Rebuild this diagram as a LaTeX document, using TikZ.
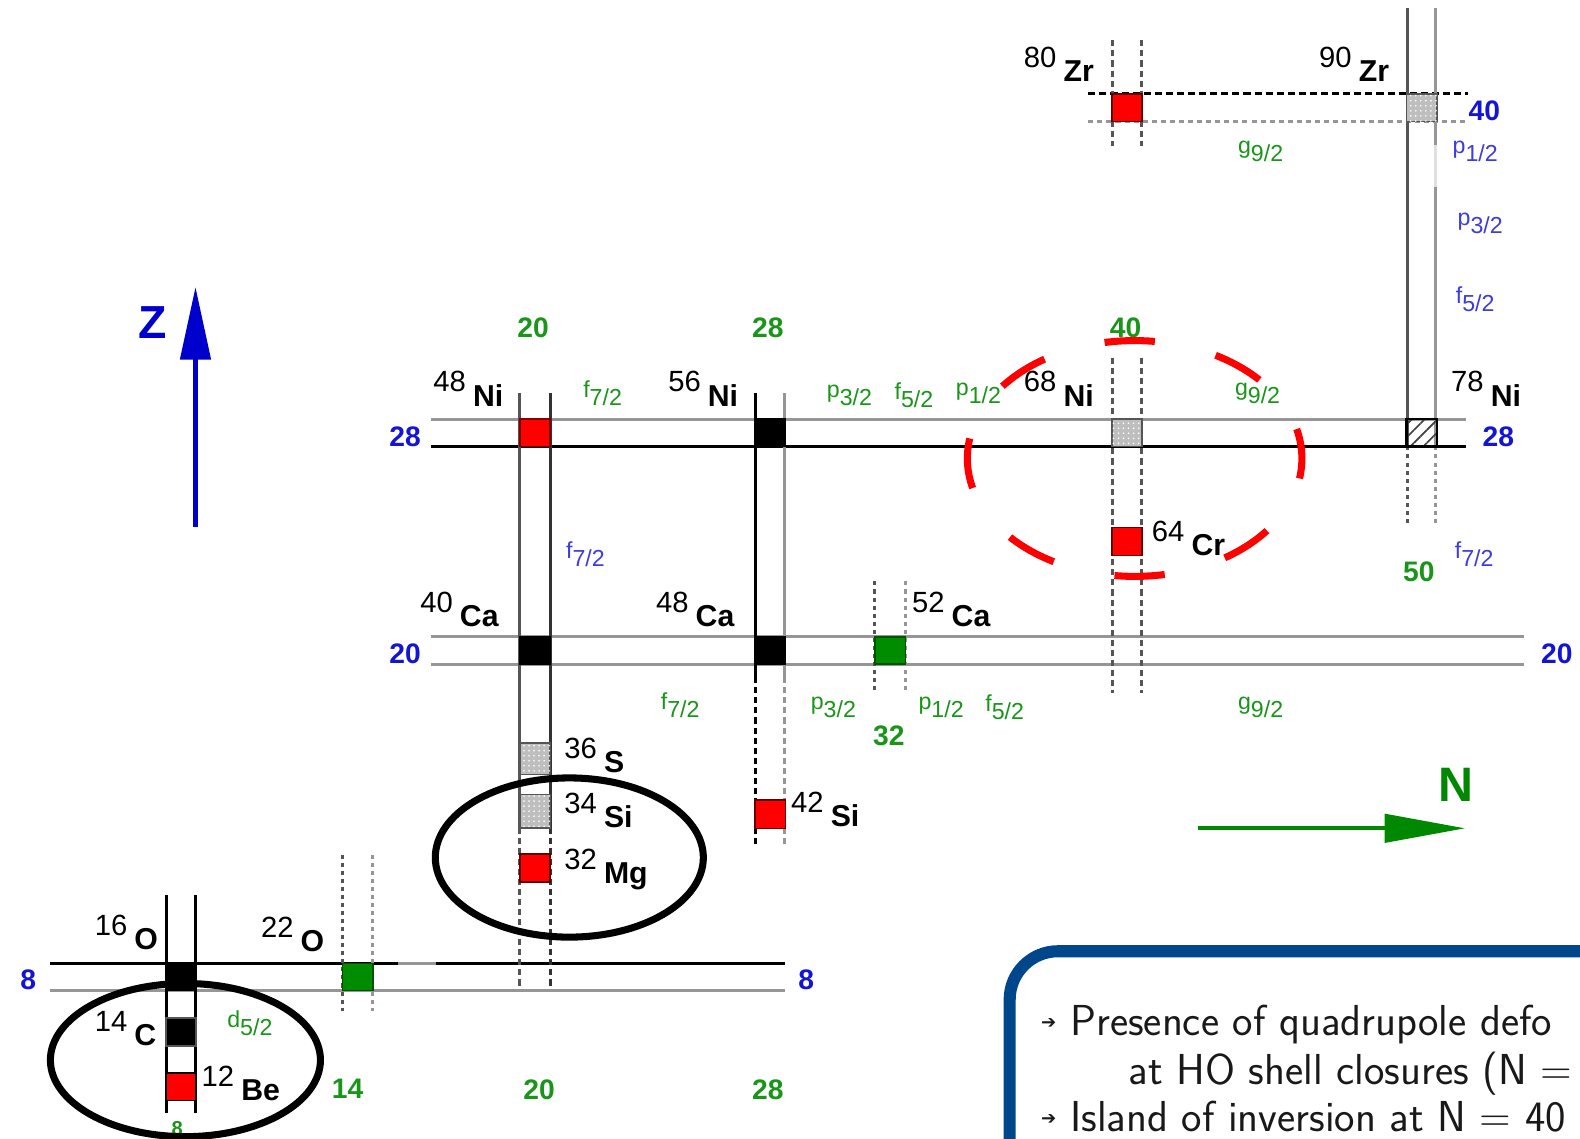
\documentclass[tikz,border=0pt]{standalone}
\usepackage{fontspec}
\setmainfont{Liberation Sans}
\newfontfamily\dejavu{DejaVu Sans}
\usetikzlibrary{arrows.meta,patterns.meta}
\definecolor{hblue}{RGB}{20,20,215}
\definecolor{oblue}{RGB}{60,60,225}
\definecolor{hgreen}{RGB}{25,150,25}
\definecolor{sqgreen}{RGB}{0,140,0}
\definecolor{arrgreen}{RGB}{0,136,0}
\definecolor{zblue}{RGB}{0,0,205}
\definecolor{boxblue}{RGB}{0,70,138}
\definecolor{lgray}{RGB}{150,150,150}
\definecolor{mgray}{RGB}{85,85,85}
\definecolor{sqgray}{RGB}{190,190,190}
\newcommand\orbl[2]{#1\raisebox{-8pt}{#2}}
\newcommand\nucl[2]{#1\hspace{7pt}\raisebox{-14pt}{\fontsize{30}{30}\selectfont\bfseries #2}}
\begin{document}
\begin{tikzpicture}[x=1pt,y=-1pt,
  ln/.style={line width=3pt},
  dsh/.style={line width=3pt,dash pattern=on 6pt off 4pt},
  dtt/.style={line width=3pt,dash pattern=on 4pt off 4pt},
  sqr/.style={minimum width=30pt,minimum height=27pt,inner sep=0pt,draw=black,line width=1.5pt},
  grsq/.style={sqr,fill=sqgray,draw=mgray,postaction={pattern={Dots[distance=5pt,radius=0.9pt]},pattern color=white}},
  nuc/.style={anchor=base west,inner sep=0pt,font=\fontsize{29}{29}\selectfont},
  mag/.style={inner sep=0pt,text=hgreen,font=\fontsize{28}{28}\selectfont\bfseries},
  rowlab/.style={inner sep=0pt,text=hblue,font=\fontsize{28}{28}\selectfont\bfseries},
  orb/.style={inner sep=0pt,text=hgreen,font=\fontsize{23}{23}\selectfont},
  orbb/.style={orb,text=oblue},
  boxtxt/.style={anchor=base west,inner sep=0pt,text=black!90,font=\sffamily\fontsize{43}{43}\selectfont},
  bul/.style={anchor=base west,inner sep=0pt,text=black!90,font=\dejavu\fontsize{18}{18}\selectfont}
]
\path[use as bounding box] (0,0) rectangle (1568,1130);
\clip (0,0) rectangle (1568,1130);
\fill[white] (0,0) rectangle (1568,1130);

% ---------- rows ----------
\draw[ln,lgray] (50,983) -- (779,983);
\draw[ln,black] (50,956) -- (395,956);
\draw[ln,lgray] (395,956) -- (433,956);
\draw[ln,black] (433,956) -- (779,956);
\draw[ln,lgray] (428,632) -- (1512,632);
\draw[ln,lgray] (428,659) -- (1512,659);
\draw[ln,lgray] (428,416) -- (1455,416);
\draw[ln,black] (428,443) -- (1455,443);
\draw[ln,black,dash pattern=on 7pt off 4pt] (1080,93) -- (1457,93);
\draw[ln,lgray,dash pattern=on 5pt off 4pt] (1080,121) -- (1457,121);

% ---------- columns ----------
\draw[ln,black] (165,888) -- (165,1105);
\draw[ln,black] (194,888) -- (194,1105);
\draw[dtt,mgray] (340,848) -- (340,1003);
\draw[dtt,lgray] (370,848) -- (370,1003);
\draw[ln,mgray] (516,390) -- (516,822);
\draw[ln,black!80] (546,390) -- (546,822);
\draw[dsh,mgray] (516,822) -- (516,978);
\draw[dsh,black!80] (546,822) -- (546,978);
\draw[ln,black] (750,390) -- (750,672);
\draw[ln,lgray] (779,390) -- (779,672);
\draw[dsh,black] (750,672) -- (750,840);
\draw[dsh,lgray] (779,672) -- (779,840);
\draw[dtt,mgray] (868,577) -- (868,685);
\draw[dtt,lgray] (899,577) -- (899,685);
\draw[dsh,mgray] (1104,355) -- (1104,688);
\draw[dsh,mgray] (1133,355) -- (1133,688);
\draw[dsh,mgray] (1104,40) -- (1104,145);
\draw[dsh,mgray] (1133,40) -- (1133,145);
\draw[ln,mgray] (1397,8) -- (1397,443);
\draw[ln,lgray] (1425,8) -- (1425,144);
\draw[ln,black!12] (1425,144) -- (1425,186);
\draw[ln,lgray] (1425,186) -- (1425,443);
\draw[dtt,mgray] (1397,443) -- (1397,520);
\draw[dtt,lgray] (1425,443) -- (1425,520);

% ---------- nuclei squares ----------
\node[sqr,fill=red,draw=red!50!black] (s48ni) at (531,429.5) {};
\node[sqr,fill=black] (s56ni) at (764.5,429.5) {};
\node[grsq] (s68ni) at (1118.5,429.5) {};
\node[sqr,draw=black,line width=2.5pt,pattern={Lines[angle=45,distance=9pt,line width=1.6pt]},pattern color=black!75] (s78ni) at (1411,429.5) {};
\node[sqr,fill=red,draw=red!40!black] (s80zr) at (1118.5,107) {};
\node[grsq] (s90zr) at (1411,107) {};
\node[sqr,fill=black] (s40ca) at (531,645.5) {};
\node[sqr,fill=black] (s48ca) at (764.5,645.5) {};
\node[sqr,fill=sqgreen,draw=sqgreen!60!black] (s52ca) at (883.5,645.5) {};
\node[sqr,fill=red,draw=red!40!black,minimum height=28pt] (s64cr) at (1118.5,537.5) {};
\node[grsq,minimum height=31pt] (s36s) at (531,753) {};
\node[grsq,minimum height=33pt] (s34si) at (531,805) {};
\node[sqr,fill=red,draw=red!40!black,minimum height=28pt] (s32mg) at (531,861.5) {};
\node[sqr,fill=red,draw=red!40!black,minimum height=28pt] (s42si) at (764.5,808) {};
\node[sqr,fill=black] (s16o) at (179.5,969.5) {};
\node[sqr,fill=sqgreen,draw=sqgreen!60!black] (s22o) at (355,969.5) {};
\node[sqr,fill=black,draw=mgray,minimum height=28pt] (s14c) at (179.5,1024) {};
\node[sqr,fill=red,draw=black,minimum height=27pt] (s12be) at (179.5,1078.5) {};

% ---------- nuclei labels ----------
\node[nuc] (l48ni) at (430,389) {\nucl{48}{Ni}};
\node[nuc] (l56ni) at (663,389) {\nucl{56}{Ni}};
\node[nuc] (l68ni) at (1016,389) {\nucl{68}{Ni}};
\node[nuc] (l78ni) at (1440,389) {\nucl{78}{Ni}};
\node[nuc] (l80zr) at (1016,67) {\nucl{80}{Zr}};
\node[nuc] (l90zr) at (1309,67) {\nucl{90}{Zr}};
\node[nuc] (l40ca) at (417,608) {\nucl{40}{Ca}};
\node[nuc] (l48ca) at (651,608) {\nucl{48}{Ca}};
\node[nuc] (l52ca) at (905,608) {\nucl{52}{Ca}};
\node[nuc] (l64cr) at (1143,537) {\nucl{64}{Cr}};
\node[nuc] (l36s) at (560,753) {\nucl{36}{S}};
\node[nuc] (l34si) at (560,807) {\nucl{34}{Si}};
\node[nuc] (l32mg) at (560,863) {\nucl{32}{Mg}};
\node[nuc] (l42si) at (785,806) {\nucl{42}{Si}};
\node[nuc] (l16o) at (94,928) {\nucl{16}{O}};
\node[nuc] (l22o) at (259,930) {\nucl{22}{O}};
\node[nuc] (l14c) at (94,1024) {\nucl{14}{C}};
\node[nuc] (l12be) at (200,1078) {\nucl{12}{Be}};

% ---------- orbitals ----------
\node[orb] (o1) at (598,390) {\orbl{f}{7/2}};
\node[orb] (o2) at (843,392) {\orbl{p}{3/2}};
\node[orb] (o3) at (907,392) {\orbl{f}{5/2}};
\node[orb] (o4) at (971,390) {\orbl{p}{1/2}};
\node[orb] (o5) at (1248,390) {\orbl{g}{9/2}};
\node[orb] (o6) at (1251,150) {\orbl{g}{9/2}};
\node[orb] (o7) at (675,700) {\orbl{f}{7/2}};
\node[orb] (o8) at (827,702) {\orbl{p}{3/2}};
\node[orb] (o9) at (934,702) {\orbl{p}{1/2}};
\node[orb] (o10) at (997,702) {\orbl{f}{5/2}};
\node[orb] (o11) at (1251,702) {\orbl{g}{9/2}};
\node[orb] (o12) at (248,1015) {\orbl{d}{5/2}};
\node[orbb] (o13) at (581,550) {\orbl{f}{7/2}};
\node[orbb] (o14) at (1463,550) {\orbl{f}{7/2}};
\node[orbb] (o15) at (1464,150) {\orbl{p}{1/2}};
\node[orbb] (o16) at (1469,222) {\orbl{p}{3/2}};
\node[orbb] (o17) at (1464,297) {\orbl{f}{5/2}};

% ---------- magic numbers ----------
\node[mag] (m1) at (529,325) {20};
\node[mag] (m2) at (762,325) {28};
\node[mag] (m3) at (1117,325) {40};
\node[mag] (m4) at (1408,567) {50};
\node[mag] (m5) at (882,730) {32};
\node[mag] (m6) at (345,1081) {14};
\node[mag] (m7) at (535,1081) {20};
\node[mag] (m8) at (762,1081) {28};
\node[mag,font=\fontsize{20}{20}\selectfont\bfseries] (m9) at (176,1120) {8};
\node[rowlab] (r1) at (402,433) {28};
\node[rowlab] (r2) at (1487,433) {28};
\node[rowlab] (r3) at (402,649) {20};
\node[rowlab] (r4) at (1545,649) {20};
\node[rowlab] (r5) at (28,972) {8};
\node[rowlab] (r6) at (800,972) {8};
\node[rowlab] (r7) at (1473,110) {40};

% ---------- ellipses ----------
\draw[red,line width=7pt,dash pattern=on 50pt off 62pt,dash phase=30pt] (1126,455) ellipse [x radius=166,y radius=117];
\draw[black,line width=7pt] (565,851) ellipse [x radius=133,y radius=79];
\draw[black,line width=7pt] (184,1052) ellipse [x radius=134,y radius=76];

% ---------- axes ----------
\coordinate (zb) at (194,523);
\coordinate (zt) at (194,285);
\draw[zblue,line width=4pt,-{Triangle[length=72pt,width=30pt]}] (zb) -- (zt);
\node[inner sep=0pt,text=zblue,font=\fontsize{46}{46}\selectfont\bfseries] (zl) at (151,320) {Z};
\coordinate (nb) at (1189,822);
\coordinate (nt) at (1454,822);
\draw[arrgreen,line width=4pt,-{Triangle[length=80pt,width=28pt]}] (nb) -- (nt);
\node[inner sep=0pt,text=arrgreen,font=\fontsize{48}{48}\selectfont\bfseries] (nl) at (1445,779) {N};

% ---------- text box ----------
\draw[boxblue,line width=12pt,rounded corners=48pt] (1002,944) rectangle (1700,1300);
\node[bul] (b1) at (1033,1021) {➔};
\node[boxtxt] (t1) at (1062,1028) {Presence of quadrupole defo};
\node[boxtxt] (t2) at (1120,1076) {at HO shell closures (N =};
\node[bul] (b2) at (1033,1116) {➔};
\node[boxtxt] (t3) at (1062,1123) {Island of inversion at N = 40};
\end{tikzpicture}
\end{document}
